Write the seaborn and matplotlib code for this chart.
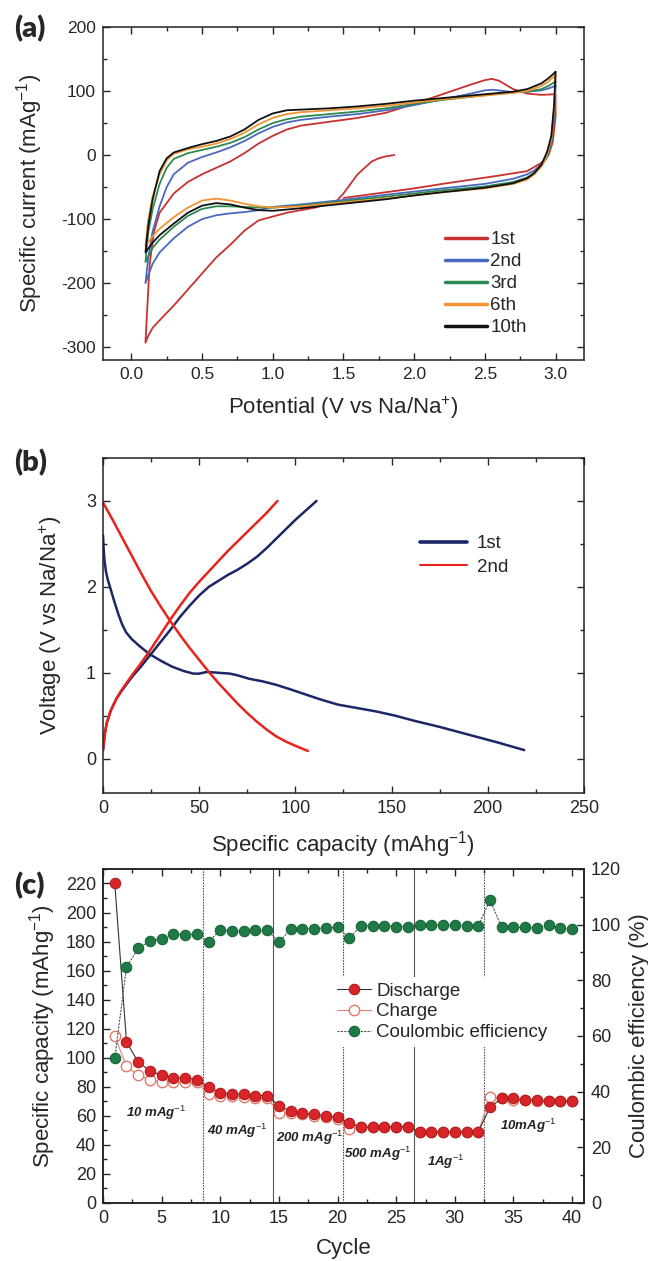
import matplotlib
matplotlib.use("Agg")
import matplotlib.pyplot as plt
from matplotlib.ticker import MultipleLocator
import seaborn as sns
import pandas as pd

sns.set_style("ticks")
plt.rcParams["font.family"] = ["Liberation Sans", "DejaVu Sans"]
plt.rcParams["mathtext.fontset"] = "custom"
plt.rcParams["mathtext.rm"] = "Liberation Sans"
plt.rcParams["mathtext.it"] = "Liberation Sans:italic"
plt.rcParams["axes.unicode_minus"] = False

# ---------------- (a) cyclic voltammetry ----------------
cv1_v = [1.86, 1.8, 1.75, 1.7, 1.6, 1.5, 1.45, 1.3, 1.1, 1.0, 0.9, 0.8, 0.7, 0.6, 0.5, 0.4, 0.3, 0.2, 0.15, 0.12, 0.1,
         0.11, 0.13, 0.16, 0.2, 0.3, 0.4, 0.5, 0.6, 0.7, 0.8, 0.9, 1.0, 1.1, 1.2, 1.4, 1.6, 1.8, 2.0, 2.2, 2.4, 2.5, 2.55,
         2.6, 2.7, 2.8, 2.9, 3.0, 3.0, 2.98, 2.95, 2.9, 2.8, 2.6, 2.2, 2.0, 1.8, 1.5]
cv1_i = [0, -2, -5, -10, -30, -60, -72, -82, -90, -96, -102, -118, -140, -160, -185, -210, -235, -258, -270, -282, -293,
         -250, -170, -120, -90, -60, -42, -30, -20, -10, 3, 18, 30, 40, 46, 52, 58, 66, 80, 95, 110, 117, 119,
         116, 103, 96, 94, 95, 60, 20, 0, -12, -25, -32, -45, -52, -58, -67]

cv_v = [3.0, 2.99, 2.97, 2.94, 2.9, 2.85, 2.8, 2.7, 2.5, 2.2, 2.0, 1.8, 1.5, 1.2, 1.0, 0.9, 0.8, 0.7, 0.6, 0.5, 0.4, 0.3,
        0.2, 0.15, 0.1,
        0.12, 0.15, 0.2, 0.25, 0.3, 0.4, 0.5, 0.6, 0.7, 0.8, 0.9, 1.0, 1.1, 1.2, 1.4, 1.6, 1.8, 2.0, 2.2, 2.4, 2.6,
        2.7, 2.8, 2.9, 2.95, 3.0]
cv2_v = [3.0, 2.99, 2.97, 2.94, 2.9, 2.85, 2.8, 2.7, 2.5, 2.2, 2.0, 1.8, 1.5, 1.2, 1.0, 0.9, 0.8, 0.7, 0.6, 0.5, 0.4, 0.3,
         0.2, 0.15, 0.1,
         0.12, 0.15, 0.2, 0.25, 0.3, 0.4, 0.5, 0.6, 0.7, 0.8, 0.9, 1.0, 1.1, 1.2, 1.4, 1.6, 1.8, 2.0, 2.2, 2.4, 2.5,
         2.55, 2.6, 2.7, 2.8, 2.9, 2.95, 3.0]
cv2_i = [108, 60, 18, -3, -14, -24, -30, -37, -45, -52, -57, -62, -70, -77, -81, -86, -89, -91, -94, -100, -112, -130,
         -152, -170, -200,
         -160, -120, -80, -50, -30, -12, -3, 4, 12, 22, 34, 44, 51, 55, 60, 64, 70, 78, 87, 96, 101,
         102, 101, 98, 99, 101, 104, 108]
cv3_i = [115, 65, 20, -3, -17, -28, -35, -42, -49, -55, -60, -65, -72, -79, -82, -82, -81, -80, -80, -84, -95, -112,
         -132, -145, -167,
         -120, -85, -45, -20, -6, 3, 8, 13, 19, 28, 40, 50, 56, 60, 64, 68, 73, 80, 86, 91, 96,
         98, 99, 103, 108, 115]
cv6_i = [125, 75, 25, 0, -18, -30, -38, -45, -52, -58, -63, -68, -74, -80, -82, -80, -76, -71, -68, -71, -82, -97,
         -115, -127, -142,
         -100, -65, -30, -8, 2, 9, 13, 18, 25, 35, 48, 58, 64, 67, 70, 73, 77, 82, 87, 91, 95,
         97, 100, 108, 115, 125]
cv10_i = [130, 80, 30, 5, -15, -28, -36, -44, -51, -58, -63, -69, -76, -83, -87, -86, -82, -77, -75, -79, -90, -107,
          -125, -137, -152,
          -110, -70, -25, -5, 4, 11, 17, 22, 29, 40, 55, 65, 70, 71, 73, 76, 80, 85, 89, 93, 97,
          99, 103, 112, 120, 130]
cv_labels = ["1st", "2nd", "3rd", "6th", "10th"]
cv_colors = ["#c8312f", "#4a68bd", "#2c8a50", "#f39230", "#111111"]

# ---------------- (b) charge / discharge profiles ----------------
d1_cap = [0, 0.3, 0.8, 1.5, 2.5, 4, 6, 8, 10, 12, 15, 19, 24, 30, 36, 42, 47, 50, 54, 60, 66, 70, 76, 83, 90, 97,
          105, 113, 122, 132, 142, 152, 162, 175, 190, 205, 219]
d1_v = [2.6, 2.45, 2.3, 2.18, 2.08, 1.97, 1.82, 1.68, 1.56, 1.47, 1.39, 1.31, 1.22, 1.14, 1.07, 1.02, 0.99, 0.99,
        1.01, 1.0, 0.99, 0.97, 0.93, 0.9, 0.86, 0.81, 0.75, 0.69, 0.63, 0.59, 0.55, 0.5, 0.44, 0.37, 0.28, 0.19, 0.1]
c1_cap = [0, 1, 2, 4, 7, 10, 15, 20, 25, 30, 35, 40, 45, 50, 55, 60, 65, 70, 75, 80, 85, 90, 95, 100, 105, 111]
c1_v = [0.1, 0.3, 0.42, 0.56, 0.7, 0.8, 0.95, 1.08, 1.22, 1.36, 1.5, 1.65, 1.78, 1.9, 2.0, 2.07, 2.14, 2.2, 2.27,
        2.35, 2.45, 2.56, 2.67, 2.78, 2.88, 3.0]
d2_cap = [0, 5, 10, 15, 20, 25, 30, 35, 40, 45, 50, 55, 60, 65, 70, 75, 80, 85, 90, 95, 100, 106.5]
d2_v = [2.98, 2.78, 2.57, 2.36, 2.15, 1.95, 1.77, 1.6, 1.44, 1.29, 1.15, 1.01, 0.88, 0.76, 0.64, 0.53, 0.43, 0.34,
        0.26, 0.2, 0.15, 0.09]
c2_cap = [0, 1, 2, 4, 7, 10, 15, 20, 25, 30, 35, 40, 45, 50, 55, 60, 65, 70, 75, 80, 85, 90.7]
c2_v = [0.1, 0.3, 0.42, 0.56, 0.7, 0.81, 0.97, 1.12, 1.28, 1.45, 1.62, 1.78, 1.93, 2.06, 2.18, 2.3, 2.42, 2.53,
        2.64, 2.75, 2.86, 3.0]

# ---------------- (c) rate capability ----------------
cycle = list(range(1, 41))
discharge = [220, 111, 97, 91, 88, 86, 86, 85, 80, 76, 75, 75, 74, 74, 67, 63, 62, 61, 60, 59,
             55, 52, 52.5, 52.5, 52.5, 52.5, 49, 49, 49, 49, 49, 49, 66, 72, 72, 71, 71, 70, 70, 70]
charge = [115, 94, 88, 85, 83, 83, 83, 83, 75, 74, 74, 73, 72, 72, 62, 62, 61, 60, 59, 58,
          51, 52, 52, 52, 52, 52, 49, 49, 49, 49, 49, 49, 73, 72, 71, 71, 70, 70, 70, 70]
efficiency = [52, 84.7, 91.5, 94, 95, 96.7, 96.4, 96.7, 93.7, 98.2, 97.6, 97.6, 97.9, 98, 93.7, 98.4, 98.6, 98.6,
              98.8, 99, 95.2, 99.6, 99.6, 99.6, 99.3, 99.3, 99.9, 99.9, 99.8, 99.8, 99.6, 99.6, 108.8, 99, 99, 99,
              98.7, 100, 98.7, 98.6]
rate_breaks = [8.5, 14.5, 20.5, 26.5, 32.5]
rate_break_styles = [(0, (1.5, 1)), "-", (0, (1.5, 1)), "-", (0, (1.5, 1))]
rate_labels = ["10 mAg$^{-1}$", "40 mAg$^{-1}$", "200 mAg$^{-1}$", "500 mAg$^{-1}$", "1Ag$^{-1}$", "10mAg$^{-1}$"]
rate_label_x = [4.5, 11.4, 17.6, 23.4, 29.2, 36.3]
rate_label_y = [62, 49.5, 45, 34, 28.5, 53]

TICK_FS = 13
LABEL_FS = 16
LEG_FS = 13.5

fig = plt.figure(figsize=(6.48, 12.61), dpi=100)


def style_axis(ax, right=True):
    ax.tick_params(which="both", direction="in", top=True, right=right, labelsize=TICK_FS, width=1.0, pad=5)
    ax.tick_params(which="major", length=5)
    ax.tick_params(which="minor", length=3)
    for s in ax.spines.values():
        s.set_linewidth(1.1)
        s.set_color("#222222")


# (a)
ax_a = fig.add_axes([0.159, 0.7145, 0.742, 0.2641])
cv_currents = [cv1_i, cv2_i, cv3_i, cv6_i, cv10_i]
cv_potentials = [cv1_v, cv2_v, cv_v, cv_v, cv_v]
for v, i, lab, col in zip(cv_potentials, cv_currents, cv_labels, cv_colors):
    sns.lineplot(x=v, y=i, sort=False, estimator=None, color=col, lw=1.3, label=lab, ax=ax_a)
ax_a.set_xlim(-0.2, 3.2)
ax_a.set_ylim(-320, 200)
ax_a.xaxis.set_major_locator(MultipleLocator(0.5))
ax_a.xaxis.set_minor_locator(MultipleLocator(0.25))
ax_a.yaxis.set_major_locator(MultipleLocator(100))
ax_a.yaxis.set_minor_locator(MultipleLocator(50))
ax_a.set_xlabel("Potential (V vs Na/Na$^{+}$)", fontsize=LABEL_FS, labelpad=9)
ax_a.set_ylabel("Specific current (mAg$^{-1}$)", fontsize=LABEL_FS, labelpad=12)
style_axis(ax_a)
ax_a.tick_params(labelsize=12.5)
leg = ax_a.legend(loc="lower left", bbox_to_anchor=(0.677, 0.02), frameon=False, fontsize=LEG_FS,
                  handlelength=2.2, handletextpad=0.2, labelspacing=0.26)
for h in leg.get_lines():
    h.set_linewidth(2.5)

# (b)
ax_b = fig.add_axes([0.159, 0.3711, 0.742, 0.2657])
sns.lineplot(x=d1_cap, y=d1_v, sort=False, estimator=None, color="#1c2767", lw=1.8, label="1st", ax=ax_b)
sns.lineplot(x=c1_cap, y=c1_v, sort=False, estimator=None, color="#1c2767", lw=1.8, ax=ax_b)
sns.lineplot(x=d2_cap, y=d2_v, sort=False, estimator=None, color="#e8231d", lw=1.8, label="2nd", ax=ax_b)
sns.lineplot(x=c2_cap, y=c2_v, sort=False, estimator=None, color="#e8231d", lw=1.8, ax=ax_b)
ax_b.set_xlim(0, 250)
ax_b.set_ylim(-0.4, 3.5)
ax_b.xaxis.set_major_locator(MultipleLocator(50))
ax_b.xaxis.set_minor_locator(MultipleLocator(25))
ax_b.yaxis.set_major_locator(MultipleLocator(1))
ax_b.yaxis.set_minor_locator(MultipleLocator(0.5))
ax_b.set_xlabel("Specific capacity (mAhg$^{-1}$)", fontsize=LABEL_FS, labelpad=9)
ax_b.set_ylabel("Voltage (V vs Na/Na$^{+}$)", fontsize=LABEL_FS, labelpad=16)
style_axis(ax_b)
leg = ax_b.legend(loc="upper left", bbox_to_anchor=(0.625, 0.82), frameon=False, fontsize=LEG_FS,
                  handlelength=2.5, handletextpad=0.5, labelspacing=0.35)
leg.get_lines()[0].set_linewidth(2.6)
leg.get_lines()[1].set_linewidth(1.5)

# (c)
ax_c = fig.add_axes([0.159, 0.046, 0.742, 0.2649])
ax_ce = ax_c.twinx()
for xb, ls in zip(rate_breaks, rate_break_styles):
    ax_c.axvline(xb, color="#555555", lw=0.8, ls=ls, zorder=0)
rate_df = pd.DataFrame({"cycle": cycle, "discharge": discharge, "charge": charge, "ce": efficiency})
sns.lineplot(data=rate_df, x="cycle", y="charge", color="#e48372", lw=0.8, marker="o", ms=7.5,
             mfc="white", mec="#e07a68", mew=1.0, label="Charge", ax=ax_c, zorder=2)
sns.lineplot(data=rate_df, x="cycle", y="discharge", color="#333333", lw=0.8, marker="o", ms=7.5,
             mfc="#d9252a", mec="#b01c1c", mew=0.8, label="Discharge", ax=ax_c, zorder=3)
sns.lineplot(data=rate_df, x="cycle", y="ce", color="#555555", lw=0.8, ls=(0, (2, 1)), marker="o", ms=7.5,
             mfc="#1f7a45", mec="#17653a", mew=0.8, label="Coulombic efficiency", ax=ax_ce, zorder=3)
for txt, tx, ty in zip(rate_labels, rate_label_x, rate_label_y):
    ax_c.text(tx, ty, txt, ha="center", va="center", fontsize=9.5, fontweight="bold", fontstyle="italic",
              color="#222222")
ax_c.set_xlim(0, 41)
ax_c.set_ylim(0, 230)
ax_ce.set_ylim(0, 120)
ax_c.xaxis.set_major_locator(MultipleLocator(5))
ax_c.xaxis.set_minor_locator(MultipleLocator(2.5))
ax_c.yaxis.set_major_locator(MultipleLocator(20))
ax_c.yaxis.set_minor_locator(MultipleLocator(10))
ax_ce.yaxis.set_major_locator(MultipleLocator(20))
ax_ce.yaxis.set_minor_locator(MultipleLocator(10))
ax_c.set_xlabel("Cycle", fontsize=LABEL_FS, labelpad=8)
ax_c.set_ylabel("Specific capacity (mAhg$^{-1}$)", fontsize=LABEL_FS, labelpad=6)
ax_ce.set_ylabel("Coulombic efficiency (%)", fontsize=LABEL_FS, labelpad=6)
style_axis(ax_c, right=False)
style_axis(ax_ce)
h1, l1 = ax_c.get_legend_handles_labels()
h2, l2 = ax_ce.get_legend_handles_labels()
ax_c.get_legend().remove()
order = [1, 0]
handles = [h1[k] for k in order] + h2
labels = [l1[k] for k in order] + l2
ax_ce.legend(handles, labels, loc="upper left", bbox_to_anchor=(0.455, 0.705), frameon=True, framealpha=1,
             edgecolor="none", fancybox=False, fontsize=LEG_FS, handlelength=1.8, handletextpad=0.3,
             labelspacing=0.2, borderpad=0.3)

# panel letters
for letter, ypos in zip(["(a)", "(b)", "(c)"], [0.977, 0.633, 0.298]):
    fig.text(0.022, ypos, letter, fontsize=21, fontweight="heavy", family=["Lato", "DejaVu Sans"],
             va="center", ha="left")

fig.savefig("out.png", dpi=100)
